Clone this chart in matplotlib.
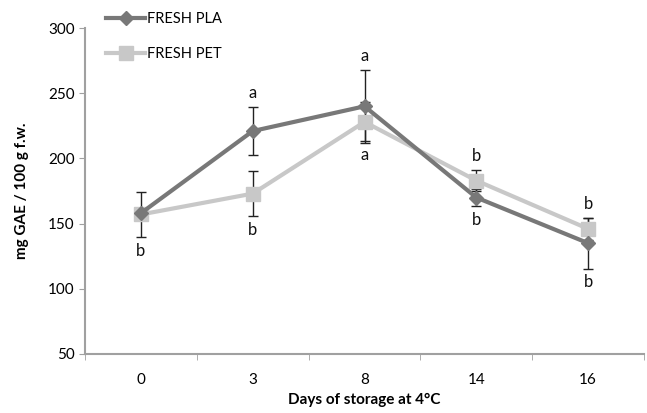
import numpy as np
import matplotlib
matplotlib.use("Agg")
import matplotlib.pyplot as plt

# Data
days = ["0", "3", "8", "14", "16"]
pla = [158, 221, 240, 170, 135]
pla_err = [0, 18.5, 28, 6.5, 19.5]
pet = [157, 173, 228, 183, 146]
pet_err = [17.5, 17.5, 15, 8, 8.5]
pla_letters = ["", "a", "a", "b", "b"]
pet_letters = ["b", "b", "a", "b", "b"]
pla_side = [0, 1, 1, -1, -1]   # 1 = above, -1 = below
pet_side = [-1, -1, -1, 1, 1]

plt.rcParams["font.family"] = ["Lato", "DejaVu Sans"]

fig = plt.figure(figsize=(6.47, 4.13), dpi=100)
ax = fig.add_axes([0.1314, 0.143, 0.864, 0.789])

x = np.arange(len(days))

# lines + markers
ax.plot(x, pet, color="#c8c8c8", lw=3, marker="s", markersize=10,
        label="FRESH PET", zorder=2)
ax.plot(x, pla, color="#787878", lw=3, marker="D", markersize=7,
        label="FRESH PLA", zorder=3)

# error bars (behind the markers, like the original)
for vals, errs in [(pla, pla_err), (pet, pet_err)]:
    ax.errorbar(x, vals, yerr=errs, fmt="none", ecolor="#222222",
                elinewidth=1, capsize=3.5, capthick=1, zorder=1)

# significance letters
for vals, errs, letters, sides in [(pla, pla_err, pla_letters, pla_side),
                                   (pet, pet_err, pet_letters, pet_side)]:
    for i in range(len(days)):
        if not letters[i]:
            continue
        s = sides[i]
        yv = vals[i] + s * errs[i]
        ax.annotate(letters[i], (x[i], yv), xytext=(0, 10 * s),
                    textcoords="offset points", ha="center", va="center",
                    fontsize=12, color="#111111")

ax.set_xlim(-0.5, len(days) - 0.5)
ax.set_ylim(50, 300)
ax.set_yticks(np.arange(50, 301, 50))
ax.set_xticks(x)
ax.set_xticklabels(days)
ax.set_xticks(np.arange(-0.5, len(days)), minor=True)
ax.tick_params(axis="x", which="major", length=0, pad=14, labelsize=11)
ax.tick_params(axis="x", which="minor", length=4, color="#a0a0a0")
ax.tick_params(axis="y", length=4, color="#a0a0a0", labelsize=11)

for side in ["top", "right"]:
    ax.spines[side].set_visible(False)
for side in ["left", "bottom"]:
    ax.spines[side].set_color("#a0a0a0")
    ax.spines[side].set_linewidth(1.5)

ax.set_xlabel("Days of storage at 4°C", fontweight="bold", fontsize=11,
              labelpad=4)
ax.set_ylabel("mg GAE / 100 g f.w.", fontweight="bold", fontsize=11,
              labelpad=14)

handles, labels = ax.get_legend_handles_labels()
ax.legend(handles[::-1], labels[::-1], loc="upper left",
          bbox_to_anchor=(0.155, 0.985), bbox_transform=fig.transFigure,
          frameon=False, fontsize=10.5, handlelength=2.7,
          handletextpad=0.1, labelspacing=1.45, borderaxespad=0)

fig.savefig("out.png", dpi=100)
